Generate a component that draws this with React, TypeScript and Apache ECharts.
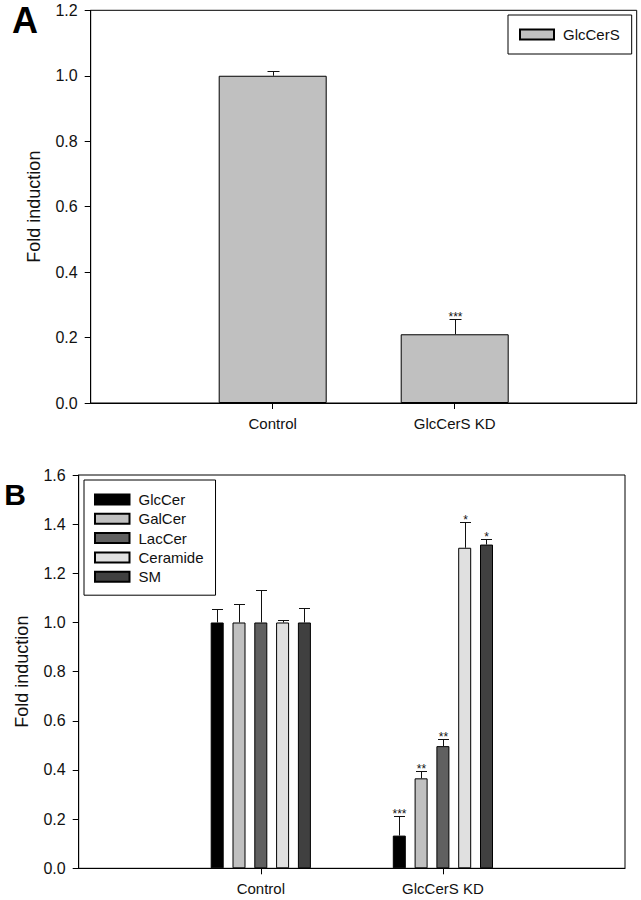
import React, { useEffect, useRef } from "react";
import * as echarts from "echarts";

// ---------- data ----------
const categories = ["", "Control", "GlcCerS KD", ""];

// Panel A
const seriesA = "GlcCerS";
const valuesA = [1.0, 0.21];
const errorsA = [0.015, 0.047];
const starsA = ["", "***"];

// Panel B
const seriesB = ["GlcCer", "GalCer", "LacCer", "Ceramide", "SM"];
const valuesB = [
  [1.0, 0.133],
  [1.0, 0.366],
  [1.0, 0.497],
  [1.0, 1.304],
  [1.0, 1.317],
];
const errorsB = [
  [0.055, 0.079],
  [0.076, 0.03],
  [0.133, 0.03],
  [0.011, 0.104],
  [0.057, 0.024],
];
const starsB = [
  ["", "***"],
  ["", "**"],
  ["", "**"],
  ["", "*"],
  ["", "*"],
];
const colorsB = ["#000000", "#c0c0c0", "#606060", "#e0e0e0", "#404040"];
const colorA = "#c0c0c0";

const yTicksA = { min: 0, max: 1.2, interval: 0.2 };
const yTicksB = { min: 0, max: 1.6, interval: 0.2 };

// ---------- styling ----------
const FONT = "'Liberation Sans', Arial, Helvetica, sans-serif";
const INK = "#111";
const BAR_W_B = 13;
const BAR_STEP_B = 21.8;

const pad = (vals: number[]) => [null, vals[0], vals[1], null];

const showMid = (i: number) => i === 1 || i === 2;

function xAxisFor(gridIndex: number) {
  return {
    type: "category",
    gridIndex,
    data: categories,
    boundaryGap: false,
    axisLine: { show: true, lineStyle: { color: "#000", width: 1 } },
    axisTick: { show: true, length: 6, interval: (i: number) => showMid(i), lineStyle: { color: "#000" } },
    axisLabel: {
      interval: (i: number) => showMid(i),
      margin: 13,
      fontSize: 15,
      fontFamily: FONT,
      color: INK,
    },
    splitLine: { show: false },
  };
}

function yAxisFor(gridIndex: number, t: { min: number; max: number; interval: number }) {
  return {
    type: "value",
    gridIndex,
    min: t.min,
    max: t.max,
    interval: t.interval,
    name: "Fold induction",
    nameLocation: "middle",
    nameGap: 48,
    nameRotate: 90,
    nameTextStyle: { fontSize: 18, fontFamily: FONT, color: INK },
    axisLine: { show: true, lineStyle: { color: "#000", width: 1 } },
    axisTick: { show: true, length: 6, lineStyle: { color: "#000" } },
    axisLabel: {
      margin: 13,
      fontSize: 16,
      fontFamily: FONT,
      color: INK,
      formatter: (v: number) => v.toFixed(1),
    },
    splitLine: { show: false },
  };
}

function errorSeries(
  xAxisIndex: number,
  yAxisIndex: number,
  vals: number[],
  errs: number[],
  stars: string[],
  pxOffset: number,
  capW: number
) {
  const data = vals.map((v, i) => [i + 1, v, errs[i], stars[i]]);
  return {
    type: "custom",
    xAxisIndex,
    yAxisIndex,
    z: 5,
    silent: true,
    data,
    renderItem: (params: any, api: any) => {
      const c = api.value(0);
      const v = api.value(1);
      const e = api.value(2);
      const s = data[params.dataIndex][3] as string;
      const base = api.coord([c, v]);
      const top = api.coord([c, v + e]);
      const x = Math.round(base[0] + pxOffset) + 0.5;
      const yTop = Math.round(top[1]) + 0.5;
      const children: any[] = [
        {
          type: "line",
          shape: { x1: x, y1: base[1], x2: x, y2: yTop },
          style: { stroke: "#111", lineWidth: 1 },
        },
        {
          type: "line",
          shape: { x1: x - capW / 2, y1: yTop, x2: x + capW / 2, y2: yTop },
          style: { stroke: "#111", lineWidth: 1 },
        },
      ];
      if (s) {
        children.push({
          type: "text",
          x: x,
          y: yTop - 3,
          style: {
            text: s,
            fontSize: 12,
            fontFamily: FONT,
            fill: INK,
            align: "center",
            verticalAlign: "middle",
          },
        });
      }
      return { type: "group", children };
    },
  };
}

export default function App() {
  const ref = useRef<HTMLDivElement>(null);

  useEffect(() => {
    if (!ref.current) return;
    const chart = echarts.init(ref.current, null, { renderer: "svg" });

    const barsB = seriesB.map((name, i) => ({
      type: "bar",
      name,
      xAxisIndex: 1,
      yAxisIndex: 1,
      data: pad(valuesB[i]),
      barWidth: BAR_W_B,
      barGap: ((BAR_STEP_B - BAR_W_B) / BAR_W_B) * 100 + "%",
      itemStyle: { color: colorsB[i], borderColor: "#000", borderWidth: 1 },
    }));

    const errB = seriesB.map((_, i) =>
      errorSeries(1, 1, valuesB[i], errorsB[i], starsB[i], (i - 2) * BAR_STEP_B, 11)
    );

    const option: any = {
      animation: false,
      backgroundColor: "#fff",
      textStyle: { fontFamily: FONT },
      grid: [
        { left: 90.7, top: 10.3, width: 546, height: 392.7, show: true, borderColor: "#000", borderWidth: 1, backgroundColor: "transparent" },
        { left: 78.7, top: 475, width: 546.3, height: 393.3, show: true, borderColor: "#000", borderWidth: 1, backgroundColor: "transparent" },
      ],
      xAxis: [xAxisFor(0), xAxisFor(1)],
      yAxis: [yAxisFor(0, yTicksA), yAxisFor(1, yTicksB)],
      legend: [
        {
          data: [seriesA],
          icon: "rect",
          orient: "vertical",
          left: 508,
          top: 15,
          padding: [12, 12, 12, 11],
          itemWidth: 34,
          itemHeight: 10,
          borderColor: "#000",
          borderWidth: 1,
          selectedMode: false,
          textStyle: { fontSize: 15, fontFamily: FONT, color: INK, padding: [0, 0, 0, 4], lineHeight: 15 },
        },
        {
          data: seriesB,
          icon: "rect",
          orient: "vertical",
          left: 84,
          top: 480,
          padding: [12, 12, 11, 10],
          itemGap: 4.3,
          itemWidth: 34.5,
          itemHeight: 10,
          borderColor: "#000",
          borderWidth: 1,
          selectedMode: false,
          textStyle: { fontSize: 15, fontFamily: FONT, color: INK, padding: [0, 0, 0, 4], lineHeight: 15 },
        },
      ],
      graphic: [
        {
          type: "text",
          x: 25,
          y: 20,
          style: { text: "A", fontSize: 36, fontWeight: "bold", fontFamily: FONT, fill: "#000", align: "center", verticalAlign: "middle" },
        },
        {
          type: "text",
          x: 15,
          y: 494.5,
          style: { text: "B", fontSize: 30, fontWeight: "bold", fontFamily: FONT, fill: "#000", align: "center", verticalAlign: "middle" },
        },
      ],
      series: [
        {
          type: "bar",
          name: seriesA,
          xAxisIndex: 0,
          yAxisIndex: 0,
          data: pad(valuesA),
          barWidth: 108,
          itemStyle: { color: colorA, borderColor: "#000", borderWidth: 1 },
        },
        errorSeries(0, 0, valuesA, errorsA, starsA, 0, 12),
        ...barsB,
        ...errB,
      ],
    };

    chart.setOption(option);
    return () => chart.dispose();
  }, []);

  return (
    <div
      ref={ref}
      style={{ position: "fixed", left: 0, top: 0, width: 641, height: 900, background: "#fff" }}
    />
  );
}
